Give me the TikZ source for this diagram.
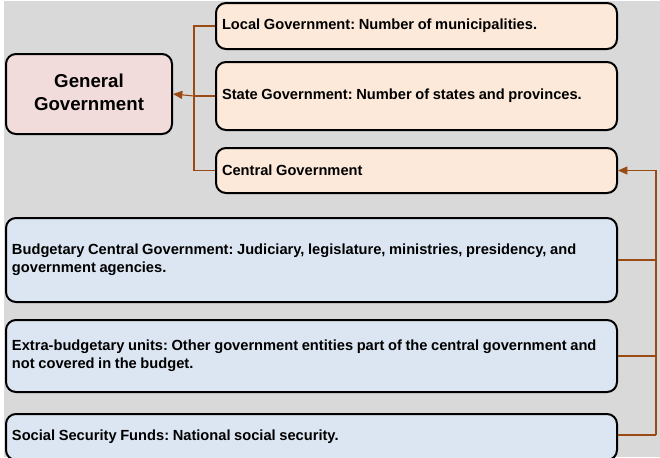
\documentclass[tikz,border=0pt]{standalone}
\usepackage{fontspec}
\setmainfont{Liberation Sans}
\usetikzlibrary{arrows.meta}
\definecolor{bgray}{HTML}{D9D9D9}
\definecolor{genfill}{HTML}{F2DCDB}
\definecolor{levfill}{HTML}{FDE9D9}
\definecolor{subfill}{HTML}{DCE6F2}
\definecolor{linkcol}{HTML}{9A4A12}
\tikzset{
  box/.style={draw=black, line width=1.5pt, rounded corners=7.5pt,
    inner xsep=4.5pt, inner ysep=0pt, align=left},
  textbox/.style={box, minimum height=#1,
    font=\fontsize{11}{13.5}\selectfont\bfseries,
    execute at begin node={\spaceskip=2.7pt\relax\xspaceskip=2.7pt\relax}},
  genbox/.style={box, fill=genfill, align=center, minimum width=124.5pt,
    minimum height=60pt, font=\fontsize{14}{17.5}\selectfont\bfseries},
  levbox/.style={textbox=#1, fill=levfill, text width=291.75pt},
  subbox/.style={textbox=#1, fill=subfill, text width=449.25pt},
  link/.style={draw=linkcol, line width=0.8pt},
  tip/.style={-{Triangle[length=7pt,width=6pt]}}
}
\begin{document}
\begin{tikzpicture}[x=0.75pt,y=-0.75pt]
  \useasboundingbox (0,0) rectangle (660,457);
  \fill[bgray] (4,1) rectangle (660,457);

  % general government and its three levels
  \node[genbox] (general) at (89,94)
    {\raisebox{-7pt}{\begin{tabular}{@{}c@{}}General\\Government\end{tabular}}};
  \node[levbox=34.5pt] (local) at (416.5,26)
    {Local Government: Number of municipalities.};
  \node[levbox=51pt] (state) at (416.5,96)
    {State Government: Number of states and provinces.};
  \node[levbox=33.75pt] (central) at (416.5,170.5)
    {Central Government};

  % components of the central government
  \node[subbox=63pt] (budget) at (311.5,260)
    {Budgetary Central Government: Judiciary, legislature, ministries, presidency, and\\government agencies.};
  \node[subbox=54pt] (extra) at (311.5,356)
    {Extra-budgetary units: Other government entities part of the central government and\\not covered in the budget.};
  \node[subbox=34.5pt] (social) at (311.5,437)
    {Social Security Funds: National social security.};

  % left-hand bracket joining the levels
  \coordinate (jl) at (194,96);
  \draw[link] (local.west) -| (jl);
  \draw[link] (central.west) -| (jl);
  \draw[link] (state.west) -- (jl);
  \draw[link,tip] (jl) -- (general.east);

  % right-hand bracket joining the components
  \coordinate (rt) at (656,170.5);
  \coordinate (rb) at (656,435);
  \draw[link] (budget.east) -- (budget.east -| rt);
  \draw[link] (extra.east) -- (extra.east -| rt);
  \draw[link] (social.east |- rb) -- (rb);
  \draw[link,tip] (rb) -- (rt) -- (central.east);
\end{tikzpicture}
\end{document}
